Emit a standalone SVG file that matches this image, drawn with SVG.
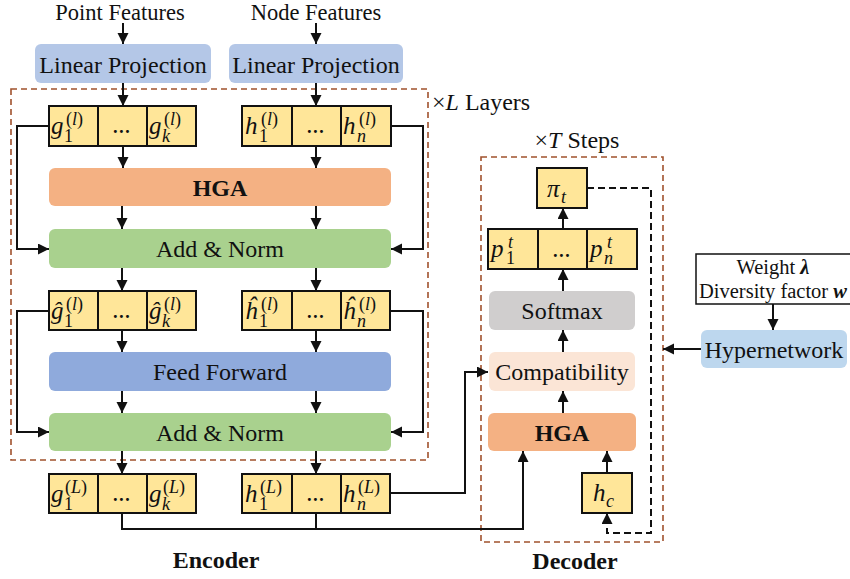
<svg xmlns="http://www.w3.org/2000/svg" width="850" height="579" viewBox="0 0 850 579">
<style>
.t{font-family:"Liberation Serif","Times New Roman",serif;font-size:24px;fill:#111;text-anchor:middle}
.b{font-weight:bold}
.m{font-family:"Liberation Serif","Times New Roman",serif;font-style:italic;font-size:25px;fill:#111}
.s{font-family:"Liberation Serif","Times New Roman",serif;font-size:18px;fill:#111}
.i{font-style:italic}
.dots{font-family:"Liberation Serif",serif;font-size:18px;font-style:italic;font-weight:bold;fill:#111;text-anchor:middle}
.cell{fill:#ffe699;stroke:#111;stroke-width:2}
.ln{fill:none;stroke:#111;stroke-width:2}
.ar{fill:none;stroke:#111;stroke-width:2;marker-end:url(#ah)}
.dash{fill:none;stroke:#111;stroke-width:2;stroke-dasharray:7,4}
.frame{fill:none;stroke:#a0522d;stroke-width:1.6;stroke-dasharray:6,4}
</style>
<defs>
<marker id="ah" markerUnits="userSpaceOnUse" markerWidth="12" markerHeight="12" refX="11" refY="5.5" orient="auto">
<path d="M0,0 L11,5.5 L0,11 z" fill="#111"/>
</marker>
</defs>
<rect width="850" height="579" fill="#fff"/>

<g id="frames">
<rect class="frame" x="11" y="89" width="417" height="371"/>
<text class="t" x="432" y="110" style="text-anchor:start">×<tspan class="i">L</tspan> Layers</text>
<rect class="frame" x="481" y="157" width="182" height="385"/>
<text class="t" x="577" y="148">×<tspan class="i">T</tspan> Steps</text>
</g>

<g id="connectors">
<path class="ar" d="M123,23 V44"/>
<path class="ar" d="M316,23 V44"/>
<path class="ar" d="M123,83 V106"/>
<path class="ar" d="M316,83 V106"/>
<path class="ar" d="M123,146 V168"/>
<path class="ar" d="M316,146 V168"/>
<path class="ar" d="M122,206 V229"/>
<path class="ar" d="M316,206 V229"/>
<path class="ar" d="M49,126 H17 V249 H49"/>
<path class="ar" d="M391,126 H423 V249 H391"/>
<path class="ar" d="M122,268 V291"/>
<path class="ar" d="M316,268 V291"/>
<path class="ar" d="M49,311 H17 V432 H49"/>
<path class="ar" d="M390,311 H423 V432 H391"/>
<path class="ar" d="M122,330 V352"/>
<path class="ar" d="M316,330 V352"/>
<path class="ar" d="M122,391 V413"/>
<path class="ar" d="M316,391 V413"/>
<path class="ar" d="M122,451 V474"/>
<path class="ar" d="M316,451 V474"/>
<path class="ar" d="M122,513 V529 H523 V451"/>
<path class="ln" d="M316,513 V529"/>
<path class="ar" d="M390,493 H465 V372 H488"/>
<path class="ar" d="M563,291 V269"/>
<path class="ar" d="M563,229 V208"/>
<path class="ar" d="M563,352 V330"/>
<path class="ar" d="M563,413 V391"/>
<path class="ar" d="M607,473 V451"/>
<path class="dash" d="M587,188 H651 V533 H607 V524"/>
<path class="ar" d="M607,522 V513"/>
<path class="ar" d="M701,349 H663"/>
<path class="ar" d="M773,304 V330"/>
</g>

<g id="inputs">
<text class="t" x="120" y="20" style="font-size:22.5px">Point Features</text>
<text class="t" x="316" y="20" style="font-size:22.5px">Node Features</text>
</g>

<g id="linproj1">
<rect x="35" y="44" width="176" height="39" rx="6" fill="#b4c7e7"/>
<text class="t" x="123" y="73">Linear Projection</text>
</g>
<g id="linproj2">
<rect x="229" y="44" width="174" height="39" rx="6" fill="#b4c7e7"/>
<text class="t" x="316" y="73">Linear Projection</text>
</g>

<g id="g-row">
<rect class="cell" x="49" y="106" width="49" height="40"/>
<rect class="cell" x="98" y="106" width="49" height="40"/>
<rect class="cell" x="147" y="106" width="49" height="40"/>
<text class="m" x="51" y="134">g</text><text class="s" x="64" y="142">1</text><text class="s" x="66" y="125">(<tspan class="i">l</tspan>)</text>
<text class="dots" x="122" y="133">…</text>
<text class="m" x="149" y="134">g</text><text class="s i" x="162" y="142">k</text><text class="s" x="164" y="125">(<tspan class="i">l</tspan>)</text>
</g>
<g id="h-row">
<rect class="cell" x="242" y="106" width="50" height="40"/>
<rect class="cell" x="292" y="106" width="49" height="40"/>
<rect class="cell" x="341" y="106" width="50" height="40"/>
<text class="m" x="245" y="134">h</text><text class="s" x="259" y="142">1</text><text class="s" x="261" y="125">(<tspan class="i">l</tspan>)</text>
<text class="dots" x="316" y="133">…</text>
<text class="m" x="343" y="134">h</text><text class="s i" x="357" y="142">n</text><text class="s" x="359" y="125">(<tspan class="i">l</tspan>)</text>
</g>

<g id="hga-enc">
<rect x="49" y="168" width="342" height="38" rx="6" fill="#f4b183"/>
<text class="t b" x="220" y="196">HGA</text>
</g>
<g id="addnorm1">
<rect x="49" y="229" width="342" height="39" rx="6" fill="#a9d18e"/>
<text class="t" x="220" y="257">Add &amp; Norm</text>
</g>

<g id="ghat-row">
<rect class="cell" x="49" y="291" width="49" height="39"/>
<rect class="cell" x="98" y="291" width="49" height="39"/>
<rect class="cell" x="147" y="291" width="49" height="39"/>
<text class="m" x="51" y="319">ĝ</text><text class="s" x="64" y="327">1</text><text class="s" x="66" y="310">(<tspan class="i">l</tspan>)</text>
<text class="dots" x="122" y="318">…</text>
<text class="m" x="149" y="319">ĝ</text><text class="s i" x="162" y="327">k</text><text class="s" x="164" y="310">(<tspan class="i">l</tspan>)</text>
</g>
<g id="hhat-row">
<rect class="cell" x="242" y="291" width="50" height="39"/>
<rect class="cell" x="292" y="291" width="49" height="39"/>
<rect class="cell" x="341" y="291" width="49" height="39"/>
<text class="m" x="245" y="319">ĥ</text><text class="s" x="259" y="327">1</text><text class="s" x="261" y="310">(<tspan class="i">l</tspan>)</text>
<text class="dots" x="316" y="318">…</text>
<text class="m" x="343" y="319">ĥ</text><text class="s i" x="357" y="327">n</text><text class="s" x="359" y="310">(<tspan class="i">l</tspan>)</text>
</g>

<g id="feedforward">
<rect x="49" y="352" width="342" height="39" rx="6" fill="#8faadc"/>
<text class="t" x="220" y="380">Feed Forward</text>
</g>
<g id="addnorm2">
<rect x="49" y="413" width="342" height="38" rx="6" fill="#a9d18e"/>
<text class="t" x="220" y="441">Add &amp; Norm</text>
</g>

<g id="gL-row">
<rect class="cell" x="49" y="474" width="49" height="39"/>
<rect class="cell" x="98" y="474" width="49" height="39"/>
<rect class="cell" x="147" y="474" width="49" height="39"/>
<text class="m" x="51" y="502">g</text><text class="s" x="64" y="510">1</text><text class="s" x="65" y="493">(<tspan class="i">L</tspan>)</text>
<text class="dots" x="122" y="501">…</text>
<text class="m" x="149" y="502">g</text><text class="s i" x="162" y="510">k</text><text class="s" x="163" y="493">(<tspan class="i">L</tspan>)</text>
</g>
<g id="hL-row">
<rect class="cell" x="242" y="474" width="50" height="39"/>
<rect class="cell" x="292" y="474" width="49" height="39"/>
<rect class="cell" x="341" y="474" width="49" height="39"/>
<text class="m" x="245" y="502">h</text><text class="s" x="259" y="510">1</text><text class="s" x="260" y="493">(<tspan class="i">L</tspan>)</text>
<text class="dots" x="316" y="501">…</text>
<text class="m" x="343" y="502">h</text><text class="s i" x="357" y="510">n</text><text class="s" x="358" y="493">(<tspan class="i">L</tspan>)</text>
</g>

<g id="encoder-label"><text class="t b" x="216" y="568">Encoder</text></g>

<g id="pi-t">
<rect class="cell" x="537" y="168" width="50" height="40"/>
<text class="m" x="547" y="197">π</text><text class="s i" x="561" y="203">t</text>
</g>
<g id="p-row">
<rect class="cell" x="488" y="229" width="50" height="40"/>
<rect class="cell" x="538" y="229" width="49" height="40"/>
<rect class="cell" x="587" y="229" width="50" height="40"/>
<text class="m" x="491" y="257">p</text><text class="s" x="506" y="264">1</text><text class="s i" x="508" y="248">t</text>
<text class="dots" x="562" y="257">…</text>
<text class="m" x="590" y="257">p</text><text class="s i" x="604" y="264">n</text><text class="s i" x="607" y="248">t</text>
</g>
<g id="softmax">
<rect x="489" y="291" width="146" height="39" rx="6" fill="#d0cece"/>
<text class="t" x="562" y="319">Softmax</text>
</g>
<g id="compat">
<rect x="489" y="352" width="146" height="39" rx="6" fill="#fbe5d6"/>
<text class="t" x="562" y="380">Compatibility</text>
</g>
<g id="hga-dec">
<rect x="488" y="413" width="148" height="38" rx="6" fill="#f4b183"/>
<text class="t b" x="562" y="441">HGA</text>
</g>
<g id="hc">
<rect class="cell" x="582" y="473" width="50" height="40"/>
<text class="m" x="593" y="501">h</text><text class="s i" x="606" y="507">c</text>
</g>
<g id="decoder-label"><text class="t b" x="575" y="569">Decoder</text></g>

<g id="weights">
<rect x="696" y="254" width="160" height="50" fill="#fff" stroke="#111" stroke-width="1.5"/>
<text class="t" x="773" y="274" style="font-size:20.5px">Weight <tspan class="b i">λ</tspan></text>
<text class="t" x="773" y="298" style="font-size:20.5px">Diversity factor <tspan class="b i">w</tspan></text>
</g>
<g id="hypernetwork">
<rect x="701" y="330" width="146" height="38" rx="6" fill="#bdd7ee"/>
<text class="t" x="774" y="358">Hypernetwork</text>
</g>
</svg>
